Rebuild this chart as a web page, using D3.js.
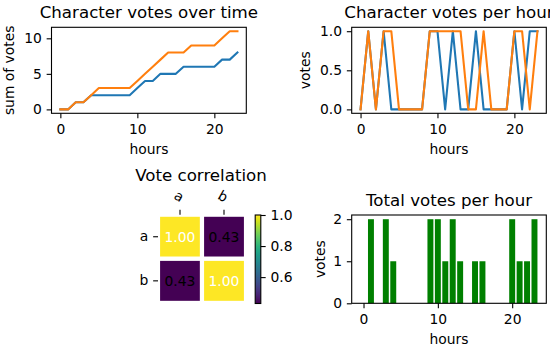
<!DOCTYPE html>
<html>
<head>
<meta charset="utf-8">
<script src="https://cdn.jsdelivr.net/npm/d3@7"></script>
<style>
  html, body { margin: 0; padding: 0; background: #fff; }
  svg { display: block; font-family: "DejaVu Sans", sans-serif; }
</style>
</head>
<body>
<svg id="chart" width="550" height="350"></svg>
<script>
// ---------------- DATA ----------------
const hours = d3.range(0, 24);
const votesA = [0,1,0,1,0,0,0,0,0,1,1,0,1,0,0,1,0,0,0,0,1,0,1,1];
const votesB = [0,1,0,1,1,0,0,0,0,1,1,1,1,1,0,0,1,0,0,0,1,1,0,1];
const cumA = [0,0,1,1,2,2,2,2,2,2,3,4,4,5,5,5,6,6,6,6,6,7,7,8];
const cumB = [0,0,1,1,2,3,3,3,3,3,4,5,6,7,8,8,8,9,9,9,9,10,11,11];
const totalVotes = [0,2,0,2,1,0,0,0,0,2,2,1,2,1,0,1,1,0,0,0,2,1,1,2];
const characters = ["a", "b"];
const corrMatrix = [[1.00, 0.43], [0.43, 1.00]];
const xTicks = [0, 10, 20];
const cumTicks = [0, 5, 10];
const perHourTicks = [0, 0.5, 1.0];
const totalTicks = [0, 1, 2];
const cbarTicks = [0.6, 0.8, 1.0];

// ---------------- STYLE ----------------
const BLUE = "#1f77b4", ORANGE = "#ff7f0e", GREEN = "#008000";
const TITLE_FS = 16.67, TICK_FS = 13.89;
const TICK_LEN = 4.86, TICK_PAD = 4.86, SPINE_W = 1.1, LINE_W = 2.08;

const svg = d3.select("#chart");

function drawAxes(box, xScale, yScale, opts) {
  const g = svg.append("g");
  const xa = d3.axisBottom(xScale).tickValues(opts.xTicks).tickSize(TICK_LEN).tickPadding(TICK_PAD)
    .tickFormat(opts.xFmt || d3.format("d"));
  const gx = g.append("g").attr("transform", `translate(0,${box.bottom})`).call(xa);
  const ya = d3.axisLeft(yScale).tickValues(opts.yTicks).tickSize(TICK_LEN).tickPadding(TICK_PAD)
    .tickFormat(opts.yFmt || d3.format("d"));
  const gy = g.append("g").attr("transform", `translate(${box.left},0)`).call(ya);
  [gx, gy].forEach(a => {
    a.select(".domain").remove();
    a.selectAll(".tick line").attr("stroke", "#000").attr("stroke-width", SPINE_W);
    a.selectAll(".tick text").attr("font-size", TICK_FS).attr("fill", "#000")
      .attr("font-family", "DejaVu Sans, sans-serif");
  });
  gx.selectAll(".tick text").attr("dy", "0.78em");
  svg.append("text").attr("x", (box.left + box.right) / 2).attr("y", box.top - 9)
    .attr("text-anchor", "middle").attr("font-size", TITLE_FS).text(opts.title);
  svg.append("text").attr("x", (box.left + box.right) / 2).attr("y", box.bottom + 40.5)
    .attr("text-anchor", "middle").attr("font-size", TICK_FS).text(opts.xLabel);
  svg.append("text").attr("transform", `translate(${opts.yLabelX},${(box.top + box.bottom) / 2}) rotate(-90)`)
    .attr("text-anchor", "middle").attr("font-size", TICK_FS).text(opts.yLabel);
  return g;
}

function frame(box) {
  svg.append("rect").attr("x", box.left).attr("y", box.top)
    .attr("width", box.right - box.left).attr("height", box.bottom - box.top)
    .attr("fill", "none").attr("stroke", "#000").attr("stroke-width", SPINE_W);
}

function clipFor(id, box) {
  svg.append("clipPath").attr("id", id).append("rect")
    .attr("x", box.left).attr("y", box.top)
    .attr("width", box.right - box.left).attr("height", box.bottom - box.top);
}

// ---------------- Panel 1: cumulative ----------------
{
  const box = { left: 51.5, right: 246.3, top: 27.3, bottom: 113.3 };
  const x = d3.scaleLinear().domain([-1.15, 24.15]).range([box.left, box.right]);
  const y = d3.scaleLinear().domain([-0.55, 11.55]).range([box.bottom, box.top]);
  drawAxes(box, x, y, { xTicks, yTicks: cumTicks, title: "Character votes over time",
    xLabel: "hours", yLabel: "sum of votes", yLabelX: 14 });
  clipFor("c1", box);
  const line = d3.line().x((d, i) => x(hours[i])).y(d => y(d));
  const gl = svg.append("g").attr("clip-path", "url(#c1)");
  [[cumA, BLUE], [cumB, ORANGE]].forEach(([s, c]) =>
    gl.append("path").attr("d", line(s)).attr("fill", "none").attr("stroke", c)
      .attr("stroke-width", LINE_W).attr("stroke-linejoin", "round").attr("stroke-linecap", "square"));
  frame(box);
}

// ---------------- Panel 2: per hour ----------------
{
  const box = { left: 351.7, right: 546.3, top: 27.3, bottom: 113.3 };
  const x = d3.scaleLinear().domain([-1.15, 24.15]).range([box.left, box.right]);
  const y = d3.scaleLinear().domain([-0.05, 1.05]).range([box.bottom, box.top]);
  drawAxes(box, x, y, { xTicks, yTicks: perHourTicks, yFmt: d3.format(".1f"),
    title: "Character votes per hour", xLabel: "hours", yLabel: "votes", yLabelX: 310 });
  clipFor("c2", box);
  const line = d3.line().x((d, i) => x(hours[i])).y(d => y(d));
  const gl = svg.append("g").attr("clip-path", "url(#c2)");
  [[votesA, BLUE], [votesB, ORANGE]].forEach(([s, c]) =>
    gl.append("path").attr("d", line(s)).attr("fill", "none").attr("stroke", c)
      .attr("stroke-width", LINE_W).attr("stroke-linejoin", "round").attr("stroke-linecap", "square"));
  frame(box);
}

// ---------------- Panel 4: total bars ----------------
{
  const box = { left: 351.7, right: 546.3, top: 215, bottom: 303.3 };
  const x = d3.scaleLinear().domain([-1.59, 24.59]).range([box.left, box.right]);
  const y = d3.scaleLinear().domain([0, 2.1]).range([box.bottom, box.top]);
  drawAxes(box, x, y, { xTicks, yTicks: totalTicks, title: "Total votes per hour",
    xLabel: "hours", yLabel: "votes", yLabelX: 325 });
  svg.append("g").selectAll("rect").data(totalVotes).join("rect")
    .attr("x", (d, i) => x(hours[i] - 0.4))
    .attr("width", (d, i) => x(hours[i] + 0.4) - x(hours[i] - 0.4))
    .attr("y", d => y(d)).attr("height", d => y(0) - y(d))
    .attr("fill", GREEN);
  frame(box);
}

// ---------------- Panel 3: heatmap ----------------
{
  const box = { left: 158, right: 246, top: 214.7, bottom: 302.9 };
  const x = d3.scaleBand().domain(characters).range([box.left, box.right]);
  const y = d3.scaleBand().domain(characters).range([box.top, box.bottom]);
  const vmin = d3.min(corrMatrix.flat()), vmax = d3.max(corrMatrix.flat());
  const color = d3.scaleSequential(d3.interpolateViridis).domain([vmin, vmax]);
  const cells = [];
  corrMatrix.forEach((row, i) => row.forEach((v, j) => cells.push({ i, j, v })));
  const g = svg.append("g");
  g.selectAll("rect").data(cells).join("rect")
    .attr("x", d => x(characters[d.j])).attr("y", d => y(characters[d.i]))
    .attr("width", x.bandwidth()).attr("height", y.bandwidth())
    .attr("fill", d => color(d.v)).attr("stroke", "#fff").attr("stroke-width", 4.17);
  g.selectAll("text.ann").data(cells).join("text").attr("class", "ann")
    .attr("x", d => x(characters[d.j]) + x.bandwidth() / 2)
    .attr("y", d => y(characters[d.i]) + y.bandwidth() / 2)
    .attr("dy", "0.36em").attr("text-anchor", "middle").attr("font-size", TICK_FS)
    .attr("fill", d => d.v > (vmin + vmax) / 2 ? "#fff" : "#000")
    .text(d => d3.format(".2f")(d.v));
  characters.forEach(c => {
    const cx = x(c) + x.bandwidth() / 2;
    g.append("line").attr("x1", cx).attr("x2", cx).attr("y1", box.top).attr("y2", box.top - TICK_LEN)
      .attr("stroke", "#000").attr("stroke-width", SPINE_W);
    g.append("text").attr("transform", `translate(${cx - 1},${box.top - 18.5}) rotate(30)`)
      .attr("text-anchor", "middle").attr("dy", "0.35em").attr("font-size", TICK_FS).text(c);
    const cy = y(c) + y.bandwidth() / 2;
    g.append("line").attr("x1", box.left).attr("x2", box.left - TICK_LEN).attr("y1", cy).attr("y2", cy)
      .attr("stroke", "#000").attr("stroke-width", SPINE_W);
    g.append("text").attr("x", box.left - TICK_LEN - TICK_PAD).attr("y", cy).attr("dy", "0.32em")
      .attr("text-anchor", "end").attr("font-size", TICK_FS).text(c);
  });
  svg.append("text").attr("x", (box.left + box.right) / 2 - 1).attr("y", 180.5)
    .attr("text-anchor", "middle").attr("font-size", TITLE_FS).text("Vote correlation");

  // colorbar
  const cb = { left: 255.2, right: 260.8, top: 215, bottom: 303.5 };
  const cy = d3.scaleLinear().domain([vmin, vmax]).range([cb.bottom, cb.top]);
  const grad = svg.append("defs").append("linearGradient").attr("id", "viridis")
    .attr("x1", 0).attr("y1", 1).attr("x2", 0).attr("y2", 0);
  d3.range(0, 1.0001, 0.05).forEach(t => grad.append("stop")
    .attr("offset", t).attr("stop-color", d3.interpolateViridis(t)));
  svg.append("rect").attr("x", cb.left).attr("y", cb.top).attr("width", cb.right - cb.left)
    .attr("height", cb.bottom - cb.top).attr("fill", "url(#viridis)")
    .attr("stroke", "#000").attr("stroke-width", SPINE_W);
  const ca = d3.axisRight(cy).tickValues(cbarTicks).tickSize(TICK_LEN).tickPadding(TICK_PAD)
    .tickFormat(d3.format(".1f"));
  const gc = svg.append("g").attr("transform", `translate(${cb.right},0)`).call(ca);
  gc.select(".domain").remove();
  gc.selectAll(".tick line").attr("stroke", "#000").attr("stroke-width", SPINE_W);
  gc.selectAll(".tick text").attr("font-size", TICK_FS).attr("fill", "#000")
    .attr("font-family", "DejaVu Sans, sans-serif");
}
</script>
</body>
</html>
